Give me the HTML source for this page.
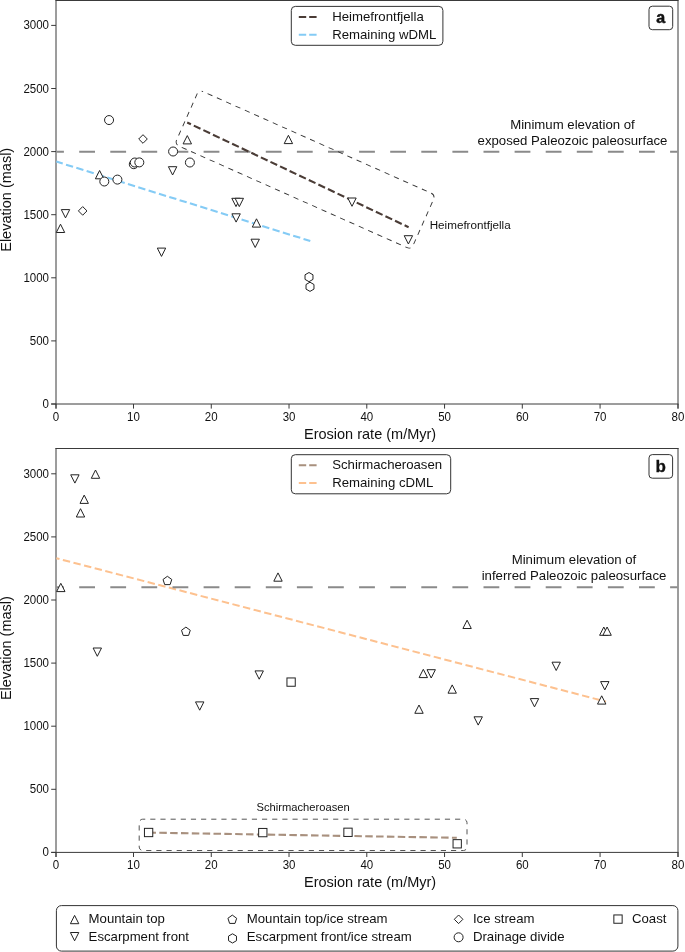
<!DOCTYPE html>
<html><head><meta charset="utf-8"><title>Erosion rate vs elevation</title><style>html,body{margin:0;padding:0;background:#fff;}svg{display:block;will-change:transform;}</style></head><body>
<svg width="685" height="952" viewBox="0 0 685 952" font-family='"Liberation Sans", sans-serif' fill="#111">
<rect width="685" height="952" fill="#fff"/>
<line x1="55.5" y1="0.5" x2="678.5" y2="0.5" stroke="#3a3a3a" stroke-width="1"/>
<line x1="56" y1="0.0" x2="56" y2="408.6" stroke="#3a3a3a" stroke-width="1"/>
<line x1="678" y1="0.0" x2="678" y2="408.6" stroke="#3a3a3a" stroke-width="1"/>
<line x1="51.2" y1="404.0" x2="678.5" y2="404.0" stroke="#3a3a3a" stroke-width="1"/>
<line x1="51.2" y1="404.00" x2="56" y2="404.00" stroke="#3a3a3a" stroke-width="1"/>
<text x="49.0" y="408.05" font-size="12" text-anchor="end" font-weight="normal" textLength="6.41" lengthAdjust="spacingAndGlyphs">0</text>
<line x1="51.2" y1="340.90" x2="56" y2="340.90" stroke="#3a3a3a" stroke-width="1"/>
<text x="49.0" y="344.95" font-size="12" text-anchor="end" font-weight="normal" textLength="19.21" lengthAdjust="spacingAndGlyphs">500</text>
<line x1="51.2" y1="277.80" x2="56" y2="277.80" stroke="#3a3a3a" stroke-width="1"/>
<text x="49.0" y="281.85" font-size="12" text-anchor="end" font-weight="normal" textLength="25.62" lengthAdjust="spacingAndGlyphs">1000</text>
<line x1="51.2" y1="214.70" x2="56" y2="214.70" stroke="#3a3a3a" stroke-width="1"/>
<text x="49.0" y="218.75" font-size="12" text-anchor="end" font-weight="normal" textLength="25.62" lengthAdjust="spacingAndGlyphs">1500</text>
<line x1="51.2" y1="151.60" x2="56" y2="151.60" stroke="#3a3a3a" stroke-width="1"/>
<text x="49.0" y="155.65" font-size="12" text-anchor="end" font-weight="normal" textLength="25.62" lengthAdjust="spacingAndGlyphs">2000</text>
<line x1="51.2" y1="88.50" x2="56" y2="88.50" stroke="#3a3a3a" stroke-width="1"/>
<text x="49.0" y="92.55" font-size="12" text-anchor="end" font-weight="normal" textLength="25.62" lengthAdjust="spacingAndGlyphs">2500</text>
<line x1="51.2" y1="25.40" x2="56" y2="25.40" stroke="#3a3a3a" stroke-width="1"/>
<text x="49.0" y="29.45" font-size="12" text-anchor="end" font-weight="normal" textLength="25.62" lengthAdjust="spacingAndGlyphs">3000</text>
<line x1="56.00" y1="404.0" x2="56.00" y2="408.6" stroke="#3a3a3a" stroke-width="1"/>
<text x="56.00" y="420.90" font-size="12" text-anchor="middle" font-weight="normal" textLength="6.41" lengthAdjust="spacingAndGlyphs">0</text>
<line x1="133.51" y1="404.0" x2="133.51" y2="408.6" stroke="#3a3a3a" stroke-width="1"/>
<text x="133.51" y="420.90" font-size="12" text-anchor="middle" font-weight="normal" textLength="12.81" lengthAdjust="spacingAndGlyphs">10</text>
<line x1="211.27" y1="404.0" x2="211.27" y2="408.6" stroke="#3a3a3a" stroke-width="1"/>
<text x="211.27" y="420.90" font-size="12" text-anchor="middle" font-weight="normal" textLength="12.81" lengthAdjust="spacingAndGlyphs">20</text>
<line x1="289.03" y1="404.0" x2="289.03" y2="408.6" stroke="#3a3a3a" stroke-width="1"/>
<text x="289.03" y="420.90" font-size="12" text-anchor="middle" font-weight="normal" textLength="12.81" lengthAdjust="spacingAndGlyphs">30</text>
<line x1="366.79" y1="404.0" x2="366.79" y2="408.6" stroke="#3a3a3a" stroke-width="1"/>
<text x="366.79" y="420.90" font-size="12" text-anchor="middle" font-weight="normal" textLength="12.81" lengthAdjust="spacingAndGlyphs">40</text>
<line x1="444.55" y1="404.0" x2="444.55" y2="408.6" stroke="#3a3a3a" stroke-width="1"/>
<text x="444.55" y="420.90" font-size="12" text-anchor="middle" font-weight="normal" textLength="12.81" lengthAdjust="spacingAndGlyphs">50</text>
<line x1="522.31" y1="404.0" x2="522.31" y2="408.6" stroke="#3a3a3a" stroke-width="1"/>
<text x="522.31" y="420.90" font-size="12" text-anchor="middle" font-weight="normal" textLength="12.81" lengthAdjust="spacingAndGlyphs">60</text>
<line x1="600.07" y1="404.0" x2="600.07" y2="408.6" stroke="#3a3a3a" stroke-width="1"/>
<text x="600.07" y="420.90" font-size="12" text-anchor="middle" font-weight="normal" textLength="12.81" lengthAdjust="spacingAndGlyphs">70</text>
<line x1="678.00" y1="404.0" x2="678.00" y2="408.6" stroke="#3a3a3a" stroke-width="1"/>
<text x="678.00" y="420.90" font-size="12" text-anchor="middle" font-weight="normal" textLength="12.81" lengthAdjust="spacingAndGlyphs">80</text>
<text x="370.1" y="438.80" font-size="14.5" text-anchor="middle" font-weight="normal" >Erosion rate (m/Myr)</text>
<text transform="translate(11.2,199.8) rotate(-90)" font-size="14.5" text-anchor="middle">Elevation (masl)</text>
<line x1="56.5" y1="151.75" x2="677.5" y2="151.75" stroke="#8a8a8a" stroke-width="2" stroke-dasharray="15.8 15.3" stroke-dashoffset="8.4"/>
<text x="572.5" y="128.9" font-size="13.2" text-anchor="middle" font-weight="normal" >Minimum elevation of</text>
<text x="572.5" y="144.5" font-size="13.2" text-anchor="middle" font-weight="normal" >exposed Paleozoic paleosurface</text>
<line x1="56.3" y1="161.6" x2="310.3" y2="241.0" stroke="#84cbf5" stroke-width="2.1" stroke-dasharray="7.4 3.42" stroke-dashoffset="0.66"/>
<line x1="187.2" y1="122.5" x2="408.6" y2="227.2" stroke="#4a3c36" stroke-width="2.1" stroke-dasharray="7.4 3.2" stroke-dashoffset="3.3"/>
<rect x="-129.45" y="-29.8" width="258.9" height="59.6" rx="4.5" fill="none" stroke="#333" stroke-width="0.9" stroke-dasharray="5.3 4.9" stroke-dashoffset="5.3" transform="translate(305.1,169.66) rotate(24)"/>
<text x="429.7" y="228.8" font-size="11.7" text-anchor="start" font-weight="normal" textLength="81" lengthAdjust="spacingAndGlyphs">Heimefrontfjella</text>
<path d="M60.50,224.20 L64.70,232.50 L56.30,232.50 Z" fill="#fff" stroke="#222" stroke-width="1.0"/>
<path d="M61.30,209.60 L69.70,209.60 L65.50,217.90 Z" fill="#fff" stroke="#222" stroke-width="1.0"/>
<path d="M82.70,206.60 L87.00,210.90 L82.70,215.20 L78.40,210.90 Z" fill="#fff" stroke="#222" stroke-width="1.0"/>
<path d="M99.60,170.50 L103.80,178.80 L95.40,178.80 Z" fill="#fff" stroke="#222" stroke-width="1.0"/>
<circle cx="104.30" cy="181.50" r="4.5" fill="#fff" stroke="#222" stroke-width="1.0"/>
<circle cx="109.05" cy="120.05" r="4.5" fill="#fff" stroke="#222" stroke-width="1.0"/>
<circle cx="117.40" cy="179.60" r="4.5" fill="#fff" stroke="#222" stroke-width="1.0"/>
<circle cx="133.80" cy="164.20" r="4.5" fill="#fff" stroke="#222" stroke-width="1.0"/>
<circle cx="134.80" cy="162.50" r="4.5" fill="#fff" stroke="#222" stroke-width="1.0"/>
<circle cx="139.30" cy="162.40" r="4.5" fill="#fff" stroke="#222" stroke-width="1.0"/>
<path d="M143.00,134.70 L147.30,139.00 L143.00,143.30 L138.70,139.00 Z" fill="#fff" stroke="#222" stroke-width="1.0"/>
<path d="M157.30,248.10 L165.70,248.10 L161.50,256.40 Z" fill="#fff" stroke="#222" stroke-width="1.0"/>
<path d="M168.40,166.70 L176.80,166.70 L172.60,175.00 Z" fill="#fff" stroke="#222" stroke-width="1.0"/>
<circle cx="173.10" cy="151.50" r="4.5" fill="#fff" stroke="#222" stroke-width="1.0"/>
<path d="M187.30,135.60 L191.50,143.90 L183.10,143.90 Z" fill="#fff" stroke="#222" stroke-width="1.0"/>
<circle cx="189.90" cy="162.50" r="4.5" fill="#fff" stroke="#222" stroke-width="1.0"/>
<path d="M231.80,198.30 L240.20,198.30 L236.00,206.60 Z" fill="#fff" stroke="#222" stroke-width="1.0"/>
<path d="M235.10,198.30 L243.50,198.30 L239.30,206.60 Z" fill="#fff" stroke="#222" stroke-width="1.0"/>
<path d="M231.90,213.80 L240.30,213.80 L236.10,222.10 Z" fill="#fff" stroke="#222" stroke-width="1.0"/>
<path d="M256.50,218.80 L260.70,227.10 L252.30,227.10 Z" fill="#fff" stroke="#222" stroke-width="1.0"/>
<path d="M251.00,239.20 L259.40,239.20 L255.20,247.50 Z" fill="#fff" stroke="#222" stroke-width="1.0"/>
<path d="M288.40,135.30 L292.60,143.60 L284.20,143.60 Z" fill="#fff" stroke="#222" stroke-width="1.0"/>
<polygon points="309.00,272.50 312.98,274.80 312.98,279.40 309.00,281.70 305.02,279.40 305.02,274.80" fill="#fff" stroke="#222" stroke-width="1.0"/>
<polygon points="310.00,282.20 313.98,284.50 313.98,289.10 310.00,291.40 306.02,289.10 306.02,284.50" fill="#fff" stroke="#222" stroke-width="1.0"/>
<path d="M347.80,198.00 L356.20,198.00 L352.00,206.30 Z" fill="#fff" stroke="#222" stroke-width="1.0"/>
<path d="M404.20,235.70 L412.60,235.70 L408.40,244.00 Z" fill="#fff" stroke="#222" stroke-width="1.0"/>
<rect x="291.3" y="6.4" width="151.6" height="38.9" rx="4" fill="#fff" stroke="#333" stroke-width="1"/>
<line x1="298.8" y1="17" x2="317" y2="17" stroke="#4a3c36" stroke-width="2" stroke-dasharray="7.4 3"/>
<line x1="298.8" y1="34.85" x2="317" y2="34.85" stroke="#84cbf5" stroke-width="2" stroke-dasharray="7.4 3"/>
<text x="332.2" y="21.2" font-size="13.2" text-anchor="start" font-weight="normal" >Heimefrontfjella</text>
<text x="332.2" y="38.6" font-size="13.2" text-anchor="start" font-weight="normal" >Remaining wDML</text>
<rect x="649" y="6.2" width="23.7" height="23.5" rx="3.3" fill="#fff" stroke="#333" stroke-width="1"/>
<text x="660.8" y="23.0" font-size="16" text-anchor="middle" font-weight="bold" stroke="#111" stroke-width="0.5">a</text>
<line x1="55.5" y1="448.5" x2="678.5" y2="448.5" stroke="#3a3a3a" stroke-width="1"/>
<line x1="56" y1="448.0" x2="56" y2="857.0" stroke="#3a3a3a" stroke-width="1"/>
<line x1="678" y1="448.0" x2="678" y2="857.0" stroke="#3a3a3a" stroke-width="1"/>
<line x1="51.2" y1="852.4" x2="678.5" y2="852.4" stroke="#3a3a3a" stroke-width="1"/>
<line x1="51.2" y1="852.40" x2="56" y2="852.40" stroke="#3a3a3a" stroke-width="1"/>
<text x="49.0" y="856.45" font-size="12" text-anchor="end" font-weight="normal" textLength="6.41" lengthAdjust="spacingAndGlyphs">0</text>
<line x1="51.2" y1="789.30" x2="56" y2="789.30" stroke="#3a3a3a" stroke-width="1"/>
<text x="49.0" y="793.35" font-size="12" text-anchor="end" font-weight="normal" textLength="19.21" lengthAdjust="spacingAndGlyphs">500</text>
<line x1="51.2" y1="726.20" x2="56" y2="726.20" stroke="#3a3a3a" stroke-width="1"/>
<text x="49.0" y="730.25" font-size="12" text-anchor="end" font-weight="normal" textLength="25.62" lengthAdjust="spacingAndGlyphs">1000</text>
<line x1="51.2" y1="663.10" x2="56" y2="663.10" stroke="#3a3a3a" stroke-width="1"/>
<text x="49.0" y="667.15" font-size="12" text-anchor="end" font-weight="normal" textLength="25.62" lengthAdjust="spacingAndGlyphs">1500</text>
<line x1="51.2" y1="600.00" x2="56" y2="600.00" stroke="#3a3a3a" stroke-width="1"/>
<text x="49.0" y="604.05" font-size="12" text-anchor="end" font-weight="normal" textLength="25.62" lengthAdjust="spacingAndGlyphs">2000</text>
<line x1="51.2" y1="536.90" x2="56" y2="536.90" stroke="#3a3a3a" stroke-width="1"/>
<text x="49.0" y="540.95" font-size="12" text-anchor="end" font-weight="normal" textLength="25.62" lengthAdjust="spacingAndGlyphs">2500</text>
<line x1="51.2" y1="473.80" x2="56" y2="473.80" stroke="#3a3a3a" stroke-width="1"/>
<text x="49.0" y="477.85" font-size="12" text-anchor="end" font-weight="normal" textLength="25.62" lengthAdjust="spacingAndGlyphs">3000</text>
<line x1="56.00" y1="852.4" x2="56.00" y2="857.0" stroke="#3a3a3a" stroke-width="1"/>
<text x="56.00" y="869.30" font-size="12" text-anchor="middle" font-weight="normal" textLength="6.41" lengthAdjust="spacingAndGlyphs">0</text>
<line x1="133.51" y1="852.4" x2="133.51" y2="857.0" stroke="#3a3a3a" stroke-width="1"/>
<text x="133.51" y="869.30" font-size="12" text-anchor="middle" font-weight="normal" textLength="12.81" lengthAdjust="spacingAndGlyphs">10</text>
<line x1="211.27" y1="852.4" x2="211.27" y2="857.0" stroke="#3a3a3a" stroke-width="1"/>
<text x="211.27" y="869.30" font-size="12" text-anchor="middle" font-weight="normal" textLength="12.81" lengthAdjust="spacingAndGlyphs">20</text>
<line x1="289.03" y1="852.4" x2="289.03" y2="857.0" stroke="#3a3a3a" stroke-width="1"/>
<text x="289.03" y="869.30" font-size="12" text-anchor="middle" font-weight="normal" textLength="12.81" lengthAdjust="spacingAndGlyphs">30</text>
<line x1="366.79" y1="852.4" x2="366.79" y2="857.0" stroke="#3a3a3a" stroke-width="1"/>
<text x="366.79" y="869.30" font-size="12" text-anchor="middle" font-weight="normal" textLength="12.81" lengthAdjust="spacingAndGlyphs">40</text>
<line x1="444.55" y1="852.4" x2="444.55" y2="857.0" stroke="#3a3a3a" stroke-width="1"/>
<text x="444.55" y="869.30" font-size="12" text-anchor="middle" font-weight="normal" textLength="12.81" lengthAdjust="spacingAndGlyphs">50</text>
<line x1="522.31" y1="852.4" x2="522.31" y2="857.0" stroke="#3a3a3a" stroke-width="1"/>
<text x="522.31" y="869.30" font-size="12" text-anchor="middle" font-weight="normal" textLength="12.81" lengthAdjust="spacingAndGlyphs">60</text>
<line x1="600.07" y1="852.4" x2="600.07" y2="857.0" stroke="#3a3a3a" stroke-width="1"/>
<text x="600.07" y="869.30" font-size="12" text-anchor="middle" font-weight="normal" textLength="12.81" lengthAdjust="spacingAndGlyphs">70</text>
<line x1="678.00" y1="852.4" x2="678.00" y2="857.0" stroke="#3a3a3a" stroke-width="1"/>
<text x="678.00" y="869.30" font-size="12" text-anchor="middle" font-weight="normal" textLength="12.81" lengthAdjust="spacingAndGlyphs">80</text>
<text x="370.1" y="887.20" font-size="14.5" text-anchor="middle" font-weight="normal" >Erosion rate (m/Myr)</text>
<text transform="translate(11.2,648.1) rotate(-90)" font-size="14.5" text-anchor="middle">Elevation (masl)</text>
<text x="574.0" y="563.7" font-size="13.2" text-anchor="middle" font-weight="normal" >Minimum elevation of</text>
<text x="574.0" y="579.7" font-size="13.2" text-anchor="middle" font-weight="normal" >inferred Paleozoic paleosurface</text>
<line x1="56.3" y1="558.2" x2="606.0" y2="701.6" stroke="#fdc18f" stroke-width="2" stroke-dasharray="7.45 3.5" stroke-dashoffset="4.15"/>
<line x1="56.5" y1="587.2" x2="677.5" y2="587.2" stroke="#8a8a8a" stroke-width="2" stroke-dasharray="15.8 15.3" stroke-dashoffset="8.4"/>
<line x1="148.6" y1="832.6" x2="456.8" y2="837.8" stroke="#a8907e" stroke-width="2.1" stroke-dasharray="7.5 3.34" stroke-dashoffset="0.14"/>
<rect x="139.2" y="819.2" width="327.8" height="31.3" rx="3.5" fill="none" stroke="#555" stroke-width="1" stroke-dasharray="5.16 5.0" stroke-dashoffset="2.6"/>
<text x="256.5" y="811.3" font-size="11.5" text-anchor="start" font-weight="normal" textLength="93.2" lengthAdjust="spacingAndGlyphs">Schirmacheroasen</text>
<path d="M70.70,474.80 L79.10,474.80 L74.90,483.10 Z" fill="#fff" stroke="#222" stroke-width="1.0"/>
<path d="M95.50,470.00 L99.70,478.30 L91.30,478.30 Z" fill="#fff" stroke="#222" stroke-width="1.0"/>
<path d="M84.20,495.10 L88.40,503.40 L80.00,503.40 Z" fill="#fff" stroke="#222" stroke-width="1.0"/>
<path d="M80.50,508.70 L84.70,517.00 L76.30,517.00 Z" fill="#fff" stroke="#222" stroke-width="1.0"/>
<path d="M60.80,583.30 L65.00,591.60 L56.60,591.60 Z" fill="#fff" stroke="#222" stroke-width="1.0"/>
<polygon points="167.40,576.30 171.77,579.48 170.10,584.62 164.70,584.62 163.03,579.48" fill="#fff" stroke="#222" stroke-width="1.0"/>
<polygon points="185.90,627.10 190.27,630.28 188.60,635.42 183.20,635.42 181.53,630.28" fill="#fff" stroke="#222" stroke-width="1.0"/>
<path d="M278.00,572.90 L282.20,581.20 L273.80,581.20 Z" fill="#fff" stroke="#222" stroke-width="1.0"/>
<path d="M93.10,648.00 L101.50,648.00 L97.30,656.30 Z" fill="#fff" stroke="#222" stroke-width="1.0"/>
<path d="M255.00,670.90 L263.40,670.90 L259.20,679.20 Z" fill="#fff" stroke="#222" stroke-width="1.0"/>
<rect x="286.95" y="677.95" width="8.30" height="8.30" fill="#fff" stroke="#222" stroke-width="1.0"/>
<path d="M195.50,701.90 L203.90,701.90 L199.70,710.20 Z" fill="#fff" stroke="#222" stroke-width="1.0"/>
<path d="M467.10,620.20 L471.30,628.50 L462.90,628.50 Z" fill="#fff" stroke="#222" stroke-width="1.0"/>
<path d="M423.30,669.30 L427.50,677.60 L419.10,677.60 Z" fill="#fff" stroke="#222" stroke-width="1.0"/>
<path d="M427.00,669.70 L435.40,669.70 L431.20,678.00 Z" fill="#fff" stroke="#222" stroke-width="1.0"/>
<path d="M452.20,684.90 L456.40,693.20 L448.00,693.20 Z" fill="#fff" stroke="#222" stroke-width="1.0"/>
<path d="M419.00,705.00 L423.20,713.30 L414.80,713.30 Z" fill="#fff" stroke="#222" stroke-width="1.0"/>
<path d="M474.00,716.80 L482.40,716.80 L478.20,725.10 Z" fill="#fff" stroke="#222" stroke-width="1.0"/>
<path d="M552.00,662.20 L560.40,662.20 L556.20,670.50 Z" fill="#fff" stroke="#222" stroke-width="1.0"/>
<path d="M530.30,698.60 L538.70,698.60 L534.50,706.90 Z" fill="#fff" stroke="#222" stroke-width="1.0"/>
<path d="M603.80,627.00 L608.00,635.30 L599.60,635.30 Z" fill="#fff" stroke="#222" stroke-width="1.0"/>
<path d="M607.10,627.00 L611.30,635.30 L602.90,635.30 Z" fill="#fff" stroke="#222" stroke-width="1.0"/>
<path d="M600.60,681.60 L609.00,681.60 L604.80,689.90 Z" fill="#fff" stroke="#222" stroke-width="1.0"/>
<path d="M601.70,695.80 L605.90,704.10 L597.50,704.10 Z" fill="#fff" stroke="#222" stroke-width="1.0"/>
<rect x="144.45" y="828.35" width="8.30" height="8.30" fill="#fff" stroke="#222" stroke-width="1.0"/>
<rect x="258.65" y="828.45" width="8.30" height="8.30" fill="#fff" stroke="#222" stroke-width="1.0"/>
<rect x="343.85" y="828.15" width="8.30" height="8.30" fill="#fff" stroke="#222" stroke-width="1.0"/>
<rect x="453.05" y="839.65" width="8.30" height="8.30" fill="#fff" stroke="#222" stroke-width="1.0"/>
<rect x="291.3" y="454.7" width="159.4" height="39.1" rx="4" fill="#fff" stroke="#333" stroke-width="1"/>
<line x1="298.8" y1="465.2" x2="317" y2="465.2" stroke="#a8907e" stroke-width="2" stroke-dasharray="7.4 3"/>
<line x1="298.8" y1="482.9" x2="317" y2="482.9" stroke="#fdc18f" stroke-width="2" stroke-dasharray="7.4 3"/>
<text x="332.2" y="469.4" font-size="13.2" text-anchor="start" font-weight="normal" >Schirmacheroasen</text>
<text x="332.2" y="487.0" font-size="13.2" text-anchor="start" font-weight="normal" >Remaining cDML</text>
<rect x="649" y="454.6" width="23.6" height="23.6" rx="3.3" fill="#fff" stroke="#333" stroke-width="1"/>
<text x="660.8" y="472.0" font-size="17" text-anchor="middle" font-weight="bold" stroke="#111" stroke-width="0.3">b</text>
<rect x="56.4" y="905.6" width="621.5" height="45.5" rx="5" fill="#fff" stroke="#333" stroke-width="1"/>
<path d="M74.60,915.40 L78.80,923.70 L70.40,923.70 Z" fill="#fff" stroke="#222" stroke-width="1.0"/>
<text x="88.6" y="923.2" font-size="13.2" text-anchor="start" font-weight="normal" >Mountain top</text>
<path d="M70.40,932.50 L78.80,932.50 L74.60,940.80 Z" fill="#fff" stroke="#222" stroke-width="1.0"/>
<text x="88.6" y="940.5" font-size="13.2" text-anchor="start" font-weight="normal" >Escarpment front</text>
<polygon points="232.30,915.10 236.67,918.28 235.00,923.42 229.60,923.42 227.93,918.28" fill="#fff" stroke="#222" stroke-width="1.0"/>
<text x="246.8" y="923.2" font-size="13.2" text-anchor="start" font-weight="normal" >Mountain top/ice stream</text>
<polygon points="232.50,933.80 236.48,936.10 236.48,940.70 232.50,943.00 228.52,940.70 228.52,936.10" fill="#fff" stroke="#222" stroke-width="1.0"/>
<text x="246.8" y="940.5" font-size="13.2" text-anchor="start" font-weight="normal" >Escarpment front/ice stream</text>
<path d="M458.60,915.00 L462.90,919.30 L458.60,923.60 L454.30,919.30 Z" fill="#fff" stroke="#222" stroke-width="1.0"/>
<text x="472.9" y="923.2" font-size="13.2" text-anchor="start" font-weight="normal" >Ice stream</text>
<circle cx="458.60" cy="937.30" r="4.5" fill="#fff" stroke="#222" stroke-width="1.0"/>
<text x="472.9" y="940.5" font-size="13.2" text-anchor="start" font-weight="normal" >Drainage divide</text>
<rect x="613.85" y="914.95" width="8.30" height="8.30" fill="#fff" stroke="#222" stroke-width="1.0"/>
<text x="632.0" y="923.2" font-size="13.2" text-anchor="start" font-weight="normal" >Coast</text>
</svg>
</body></html>
